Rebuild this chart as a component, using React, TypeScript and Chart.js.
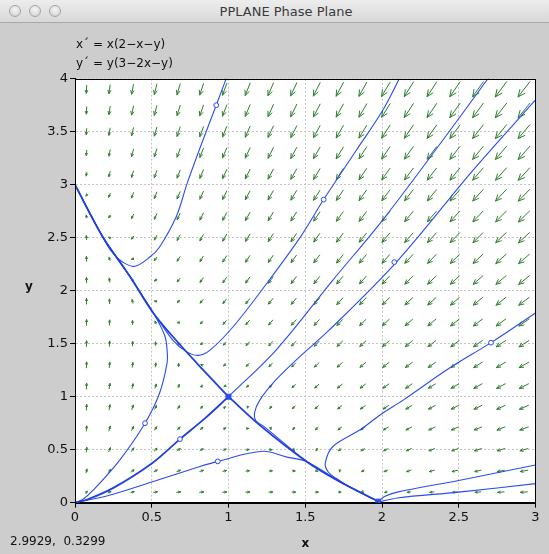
import React, { useEffect, useRef } from 'react';
import { Chart, registerables } from 'chart.js';

Chart.register(...registerables);

// ---- axis tick labels ----
const xTickLabels = ['0', '0.5', '1', '1.5', '2', '2.5', '3'];
const yTickLabels = ['0', '0.5', '1', '1.5', '2', '2.5', '3', '3.5', '4'];

// ---- direction field grid (arrow centres) ----
const fieldXs = [0.075, 0.225, 0.375, 0.525, 0.675, 0.825, 0.975, 1.125, 1.275, 1.425,
  1.575, 1.725, 1.875, 2.025, 2.175, 2.325, 2.475, 2.625, 2.775, 2.925];
const fieldYs = [0.1, 0.3, 0.5, 0.7, 0.9, 1.1, 1.3, 1.5, 1.7, 1.9,
  2.1, 2.3, 2.5, 2.7, 2.9, 3.1, 3.3, 3.5, 3.7, 3.9];

// the system shown in the window:  x' = x(2-x-y),  y' = y(3-2x-y)
const xPrime = (x: number, y: number) => x * (2 - x - y);
const yPrime = (x: number, y: number) => y * (3 - 2 * x - y);

// ---- trajectories ([x, y]) ----
const sepToUpperLeft = [[1, 1], [0.83, 1.26], [0.66, 1.53], [0.51, 1.79], [0.36, 2.13], [0.18, 2.51], [0, 3]];
const sepToRight = [[1, 1], [1.205, 0.73], [1.51, 0.387], [1.726, 0.198], [1.965, 0.02]];
const sepFromOrigin = [[0, 0], [0.08, 0.03], [0.25, 0.14], [0.5, 0.37], [0.684, 0.6], [0.85, 0.8], [1, 1]];
const sepFromTop = [[1, 1], [1.31, 1.44], [1.68, 2.1], [1.99, 2.64], [2.35, 3.33], [2.7, 4.02]];
const trajE = [[2.12, 4.02], [2.0, 3.69], [1.835, 3.33], [1.62, 2.86], [1.47, 2.51], [1.25, 2.07], [1.03, 1.66],
  [0.88, 1.44], [0.8, 1.39], [0.72, 1.43], [0.64, 1.53], [0.55, 1.71], [0.51, 1.79],
  [0.36, 2.13], [0.18, 2.51], [0, 3]];
const trajF = [[0.99, 4.02], [0.92, 3.75], [0.81, 3.33], [0.73, 3.01], [0.66, 2.7], [0.55, 2.41], [0.49, 2.32],
  [0.39, 2.23], [0.31, 2.27], [0.25, 2.35], [0.21, 2.43], [0.1, 2.72], [0, 3]];
const trajG = [[0, 0], [0.05, 0.03], [0.12, 0.12], [0.29, 0.4], [0.456, 0.75], [0.55, 1.03], [0.6, 1.32],
  [0.6, 1.44], [0.586, 1.57], [0.53, 1.74], [0.44, 1.95], [0.3, 2.26], [0.18, 2.51], [0, 3]];
const trajH = [[3.0, 3.8], [2.595, 3.14], [2.1, 2.28], [1.65, 1.62], [1.466, 1.38], [1.31, 1.16], [1.205, 0.97],
  [1.17, 0.85], [1.18, 0.77], [1.23, 0.72], [1.51, 0.39], [1.726, 0.198], [1.965, 0.02]];
const trajI = [[3.0, 1.79], [2.71, 1.51], [2.44, 1.27], [2.14, 0.97], [1.99, 0.83], [1.86, 0.69], [1.68, 0.53],
  [1.63, 0.37], [1.65, 0.29], [1.7, 0.23], [1.8, 0.14], [1.965, 0.02]];
const trajJ = [[0, 0], [0.23, 0.073], [0.51, 0.2], [0.81, 0.34], [0.93, 0.39], [1.22, 0.485], [1.38, 0.43],
  [1.51, 0.387], [1.726, 0.198], [1.965, 0.02]];
const trajK = [[1.975, 0.01], [2.02, 0.06], [2.1, 0.1], [2.5, 0.21], [3.0, 0.356]];
const trajL = [[1.975, 0.005], [2.1, 0.045], [2.5, 0.1], [3.0, 0.18]];

const thinTrajectories = [sepFromTop, trajE, trajF, trajG, trajH, trajI, trajJ, trajK, trajL];
const thickTrajectories = [sepToUpperLeft, sepToRight, sepFromOrigin];

// initial points (small circles) and the saddle / sink markers
const startPoints = [[0.92, 3.75], [1.62, 2.86], [2.08, 2.27], [2.71, 1.51], [0.456, 0.75], [0.684, 0.6], [0.93, 0.39]];
const equilibria = [[1, 1], [1.975, 0.01]];

const BLUE = '#2b4cf0';
const GREEN = '#2f7f2f';

const toXY = (arr: number[][]) => arr.map(([x, y]) => ({ x, y }));
const labelFor = (v: number, labels: string[]) => {
  const i = Math.round(Number(v) / 0.5);
  return labels[i] ?? '';
};

const areaPlugin = {
  id: 'areaPlugin',
  beforeDraw(chart: any) {
    const { ctx, chartArea: a } = chart;
    ctx.save();
    ctx.fillStyle = '#ffffff';
    ctx.fillRect(a.left, a.top, a.right - a.left, a.bottom - a.top);
    ctx.restore();
  },
  afterDraw(chart: any) {
    const { ctx, chartArea: a } = chart;
    ctx.save();
    ctx.strokeStyle = '#000';
    ctx.lineWidth = 1;
    ctx.strokeRect(Math.round(a.left) + 0.5, Math.round(a.top) + 0.5,
      Math.round(a.right - a.left) - 1, Math.round(a.bottom - a.top));
    ctx.restore();
  },
};

const fieldPlugin = {
  id: 'fieldPlugin',
  beforeDatasetsDraw(chart: any) {
    const { ctx, chartArea: a } = chart;
    const sx = chart.scales.x;
    const sy = chart.scales.y;
    const pxX = Math.abs(sx.getPixelForValue(1) - sx.getPixelForValue(0));
    const pxY = Math.abs(sy.getPixelForValue(0) - sy.getPixelForValue(1));
    ctx.save();
    ctx.beginPath();
    ctx.rect(a.left, a.top, a.right - a.left, a.bottom - a.top);
    ctx.clip();
    ctx.strokeStyle = GREEN;
    ctx.lineWidth = 1;
    ctx.lineCap = 'round';
    for (const gx of fieldXs) {
      for (const gy of fieldYs) {
        const vx = xPrime(gx, gy);
        const vy = yPrime(gx, gy);
        const mag = Math.hypot(vx, vy);
        if (mag < 1e-9) continue;
        let dx = vx * pxX;
        let dy = -vy * pxY;
        const n = Math.hypot(dx, dy);
        dx /= n; dy /= n;
        const L = Math.min(22, 4.2 * Math.pow(mag, 0.45));
        const cx = sx.getPixelForValue(gx);
        const cy = sy.getPixelForValue(gy);
        const tx = cx - dx * L / 2, ty = cy - dy * L / 2;
        const hx = cx + dx * L / 2, hy = cy + dy * L / 2;
        const h = Math.max(2.2, 0.4 * L);
        const ang = 0.42;
        const bx = -dx, by = -dy;
        const c = Math.cos(ang), s = Math.sin(ang);
        const b1x = bx * c - by * s, b1y = bx * s + by * c;
        const b2x = bx * c + by * s, b2y = -bx * s + by * c;
        ctx.beginPath();
        ctx.moveTo(tx, ty);
        ctx.lineTo(hx, hy);
        ctx.moveTo(hx + b1x * h, hy + b1y * h);
        ctx.lineTo(hx, hy);
        ctx.lineTo(hx + b2x * h, hy + b2y * h);
        ctx.stroke();
      }
    }
    ctx.restore();
  },
};

export default function App() {
  const ref = useRef<HTMLCanvasElement | null>(null);

  useEffect(() => {
    if (!ref.current) return;
    const datasets: any[] = [
      {
        type: 'scatter',
        data: toXY(equilibria),
        pointStyle: 'rect',
        pointRadius: 3.5,
        backgroundColor: BLUE,
        borderColor: BLUE,
        borderWidth: 1,
      },
      {
        type: 'scatter',
        data: toXY(startPoints),
        pointStyle: 'circle',
        pointRadius: 2.4,
        backgroundColor: '#ffffff',
        borderColor: BLUE,
        borderWidth: 1,
      },
      ...thickTrajectories.map((t) => ({
        type: 'line',
        data: toXY(t),
        borderColor: '#1f3fe0',
        borderWidth: 1.8,
        pointRadius: 0,
        tension: 0.35,
        fill: false,
      })),
      ...thinTrajectories.map((t) => ({
        type: 'line',
        data: toXY(t),
        borderColor: BLUE,
        borderWidth: 1.1,
        pointRadius: 0,
        tension: 0.35,
        fill: false,
      })),
    ];

    const chart = new Chart(ref.current, {
      type: 'line',
      data: { datasets },
      options: {
        responsive: false,
        animation: false,
        devicePixelRatio: 1,
        events: [],
        layout: { padding: { top: 78.7, right: 13.5, bottom: 0, left: 0 } },
        plugins: { legend: { display: false }, tooltip: { enabled: false }, title: { display: false } },
        scales: {
          x: {
            type: 'linear',
            min: 0,
            max: 3,
            position: 'bottom',
            afterFit: (s: any) => { s.height = 51.3; },
            ticks: {
              stepSize: 0.5,
              autoSkip: false,
              maxRotation: 0,
              padding: 2,
              color: '#111',
              font: { family: 'DejaVu Sans', size: 13 },
              callback: (v: any) => labelFor(v, xTickLabels),
            },
            grid: { color: '#c4c4c4', lineWidth: 1, tickLength: 5, tickColor: '#000', drawTicks: true },
            border: { display: true, color: '#000', width: 1, dash: [2, 2] },
            title: {
              display: true,
              text: 'x',
              color: '#111',
              font: { family: 'DejaVu Sans', size: 12, weight: 'bold' },
              padding: { top: 0, bottom: 3 },
            },
          },
          y: {
            type: 'linear',
            min: 0,
            max: 4,
            position: 'left',
            afterFit: (s: any) => { s.width = 75; },
            ticks: {
              stepSize: 0.5,
              autoSkip: false,
              padding: 2,
              color: '#111',
              font: { family: 'DejaVu Sans', size: 13 },
              callback: (v: any) => labelFor(v, yTickLabels),
            },
            grid: { color: '#c4c4c4', lineWidth: 1, tickLength: 5, tickColor: '#000', drawTicks: true },
            border: { display: true, color: '#000', width: 1, dash: [2, 2] },
          },
        },
      },
      plugins: [areaPlugin, fieldPlugin],
    } as any);
    return () => chart.destroy();
  }, []);

  const circle = (left: number) => (
    <div
      style={{
        position: 'absolute',
        left,
        top: 5,
        width: 12,
        height: 12,
        borderRadius: '50%',
        border: '1px solid #a4a4a4',
        background: 'radial-gradient(circle at 50% 35%, #f6f6f6, #cfcfcf)',
        boxSizing: 'border-box',
      }}
    />
  );

  return (
    <div
      style={{
        position: 'absolute',
        left: 0,
        top: 0,
        width: 549,
        height: 554,
        overflow: 'hidden',
        background: '#cdcdcd',
        fontFamily: '"DejaVu Sans", sans-serif',
      }}
    >
      <div
        style={{
          position: 'absolute',
          left: 0,
          top: 0,
          width: 549,
          height: 22,
          background: 'linear-gradient(#ededed, #d8d8d8)',
          borderBottom: '1px solid #a8a8a8',
        }}
      >
        {circle(9)}
        {circle(29)}
        {circle(49)}
        <div
          style={{
            position: 'absolute',
            left: 218,
            width: 136,
            top: 4,
            textAlign: 'center',
            fontSize: 13,
            color: '#3a3a3a',
            whiteSpace: 'nowrap',
          }}
        >
          PPLANE Phase Plane
        </div>
      </div>
      <canvas ref={ref} width={549} height={554} style={{ position: 'absolute', left: 0, top: 0 }} />
      <div style={{ position: 'absolute', left: 76, top: 37, fontSize: 12, color: '#111', whiteSpace: 'pre' }}>
        x´ = x(2−x−y)
      </div>
      <div style={{ position: 'absolute', left: 76, top: 56, fontSize: 12, color: '#111', whiteSpace: 'pre' }}>
        y´ = y(3−2x−y)
      </div>
      <div style={{ position: 'absolute', left: 25, top: 279, fontSize: 12, fontWeight: 'bold', color: '#111' }}>
        y
      </div>
      <div style={{ position: 'absolute', left: 10, top: 534, fontSize: 12, color: '#111', whiteSpace: 'pre' }}>
        2.9929,  0.3299
      </div>
    </div>
  );
}
